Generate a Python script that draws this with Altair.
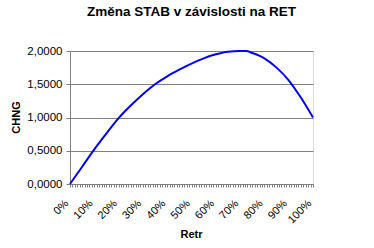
import altair as alt
import pandas as pd

retr = [0, 5, 10, 15, 20, 25, 30, 35, 40, 45, 50, 55, 60, 65, 70, 72.5, 75, 80, 85, 90, 95, 100]
chng = [0.0, 0.26, 0.52, 0.76, 0.99, 1.18, 1.35, 1.50, 1.62, 1.72, 1.81, 1.89, 1.95, 1.99, 2.0, 2.0, 1.97, 1.89, 1.75, 1.56, 1.30, 1.0]
y_ticks = [0, 0.5, 1.0, 1.5, 2.0]
x_ticks = list(range(0, 101))

df = pd.DataFrame({"retr": retr, "chng": chng})

FONT = "Liberation Sans"
GRAY = "#808080"

chart = alt.Chart(df).mark_line(
    color="#0000FF", strokeWidth=2, interpolate="monotone"
).encode(
    x=alt.X(
        "retr:Q",
        scale=alt.Scale(domain=[0, 100], nice=False, zero=False),
        axis=alt.Axis(
            values=x_ticks,
            labelExpr="datum.value % 10 == 0 ? datum.value + '%' : ''",
            labelAngle=315,
            labelAlign="right",
            labelBaseline="bottom",
            labelOverlap=False,
            labelFlush=False,
            labelPadding=18,
            labelFont=FONT,
            labelFontSize=11,
            labelColor="black",
            tickSize=3,
            tickColor=GRAY,
            domainColor=GRAY,
            grid=False,
            title="Retr",
            titleFont=FONT,
            titleFontSize=11,
            titleFontWeight="bold",
            titleColor="black",
            titleX=121,
            titleY=50,
            titleAlign="center",
            titleBaseline="middle",
        ),
    ),
    y=alt.Y(
        "chng:Q",
        scale=alt.Scale(domain=[0, 2], nice=False),
        axis=alt.Axis(
            values=y_ticks,
            labelExpr="replace(format(datum.value, '.4f'), '.', ',')",
            labelFont=FONT,
            labelFontSize=11.5,
            labelColor="black",
            labelPadding=4,
            tickSize=4,
            tickColor=GRAY,
            domainColor=GRAY,
            grid=True,
            gridColor=GRAY,
            gridWidth=1,
            title="CHNG",
            titleFont=FONT,
            titleFontSize=11,
            titleFontWeight="bold",
            titleColor="black",
            titleAngle=270,
            titleX=-54,
            titleY=66,
            titleAlign="center",
            titleBaseline="middle",
        ),
    ),
).properties(
    width=243,
    height=133,
    title=alt.TitleParams(
        "Změna STAB v závislosti na RET",
        font=FONT,
        fontSize=13.5,
        fontWeight="bold",
        color="black",
        anchor="middle",
        offset=27,
    ),
    autosize=alt.AutoSizeParams(type="none"),
    padding={"left": 70, "top": 51, "right": 61, "bottom": 64},
).configure_view(
    stroke=GRAY, strokeWidth=1
).configure(background="white")

chart.save("out.html", embed_options={"renderer": "svg", "actions": False})
